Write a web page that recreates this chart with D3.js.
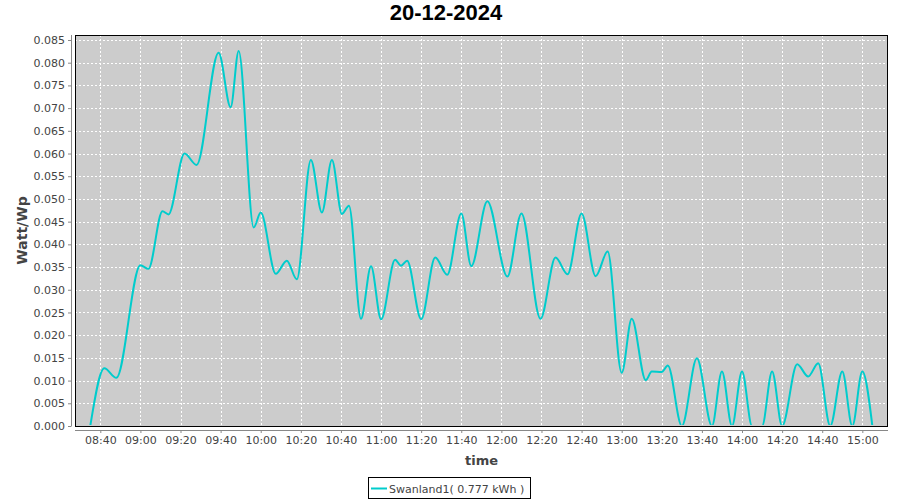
<!DOCTYPE html>
<html>
<head>
<meta charset="utf-8">
<script src="https://cdn.jsdelivr.net/npm/d3@7"></script>
<style>
  html, body { margin: 0; padding: 0; background: #ffffff; }
  svg { display: block; }
</style>
</head>
<body>
<svg id="chart" width="900" height="500"></svg>
<script>
// ---- data ----
const title = "20-12-2024";
const seriesName = "Swanland1( 0.777 kWh )";
const yLabel = "Watt/Wp";
const xLabel = "time";

const times = [
  "08:35","08:42","08:48","09:00","09:04","09:11","09:14","09:22","09:28","09:39",
  "09:45","09:49","09:56:30","10:00","10:07:30","10:13","10:18","10:25","10:30:30","10:35:30",
  "10:40:30","10:44","10:50","10:55","11:00","11:07","11:10","11:13","11:20","11:27",
  "11:33","11:40","11:45","11:53","12:03","12:10","12:19:30","12:27","12:33","12:40",
  "12:47","12:53","13:00","13:05","13:12","13:15","13:20","13:23","13:30","13:37:30",
  "13:45","13:50","13:55","14:00","14:05","14:10","14:15","14:20","14:27:30","14:33",
  "14:38","14:44","14:50","14:55","15:00","15:05"
];
const values = [
  0.0000,0.0127,0.0106,0.0354,0.0346,0.0473,0.0466,0.0600,0.0575,0.0822,
  0.0702,0.0826,0.0437,0.0470,0.0335,0.0364,0.0323,0.0586,0.0470,0.0586,
  0.0467,0.0485,0.0236,0.0352,0.0235,0.0366,0.0353,0.0364,0.0235,0.0371,
  0.0333,0.0468,0.0352,0.0495,0.0329,0.0468,0.0236,0.0371,0.0334,0.0468,
  0.0330,0.0384,0.0117,0.0236,0.0101,0.0120,0.0119,0.0133,0.0000,0.0149,
  0.0000,0.0120,0.0000,0.0120,0.0000,0.0000,0.0120,0.0000,0.0136,0.0109,
  0.0138,0.0000,0.0120,0.0000,0.0120,0.0000
];
const xTickLabels = ["08:40","09:00","09:20","09:40","10:00","10:20","10:40","11:00","11:20","11:40",
  "12:00","12:20","12:40","13:00","13:20","13:40","14:00","14:20","14:40","15:00"];
const yTickValues = [0,0.005,0.010,0.015,0.020,0.025,0.030,0.035,0.040,0.045,0.050,0.055,0.060,0.065,0.070,0.075,0.080,0.085];
const xDomain = ["08:27:23","15:12:48"];
const yDomain = [0, 0.0861];

// ---- layout ----
const W = 900, H = 500;
const plot = { left: 75, right: 888, top: 35, bottom: 426 };
const parse = s => d3.timeParse(s.length > 5 ? "%H:%M:%S" : "%H:%M")(s);
const data = times.map((t, i) => ({ t: parse(t), v: values[i] }));

const x = d3.scaleTime().domain(xDomain.map(parse)).range([plot.left, plot.right]);
const y = d3.scaleLinear().domain(yDomain).range([plot.bottom, plot.top]);

const svg = d3.select("#chart");
const tickFont = "DejaVu Sans, sans-serif";

// title
svg.append("text")
  .attr("x", 446).attr("y", 20)
  .attr("text-anchor", "middle")
  .attr("font-family", "Liberation Sans, Arial, sans-serif")
  .attr("font-weight", "bold")
  .attr("font-size", 22)
  .attr("fill", "#000")
  .text(title);

// plot background
svg.append("rect")
  .attr("x", plot.left).attr("y", plot.top)
  .attr("width", plot.right - plot.left).attr("height", plot.bottom - plot.top)
  .attr("fill", "#cccccc");

// gridlines
const grid = svg.append("g").attr("stroke", "#ffffff").attr("stroke-width", 1).attr("stroke-dasharray", "2,2");
const xTicks = xTickLabels.map(parse);
grid.selectAll("line.v").data(xTicks).enter().append("line")
  .attr("x1", d => Math.round(x(d)) + 0.5).attr("x2", d => Math.round(x(d)) + 0.5)
  .attr("y1", plot.top).attr("y2", plot.bottom);
grid.selectAll("line.h").data(yTickValues).enter().append("line")
  .attr("x1", plot.left).attr("x2", plot.right)
  .attr("y1", d => Math.round(y(d)) + 0.5).attr("y2", d => Math.round(y(d)) + 0.5);

// clip for the line
svg.append("clipPath").attr("id", "clip").append("rect")
  .attr("x", plot.left).attr("y", plot.top)
  .attr("width", plot.right - plot.left).attr("height", plot.bottom - plot.top - 1);

const line = d3.line().x(d => x(d.t)).y(d => y(d.v)).curve(d3.curveMonotoneX);
svg.append("path").datum(data)
  .attr("clip-path", "url(#clip)")
  .attr("fill", "none")
  .attr("stroke", "#00cccc")
  .attr("stroke-width", 2)
  .attr("d", line);

// plot border
svg.append("rect")
  .attr("x", plot.left + 0.5).attr("y", plot.top + 0.5)
  .attr("width", plot.right - plot.left - 1).attr("height", plot.bottom - plot.top)
  .attr("fill", "none").attr("stroke", "#000").attr("stroke-width", 1);

// y axis
const yAxis = d3.axisLeft(y).tickValues(yTickValues).tickFormat(d3.format(".3f")).tickSize(3).tickPadding(3);
const gy = svg.append("g").attr("transform", `translate(${plot.left - 4},0)`).call(yAxis);
gy.select(".domain").attr("stroke", "#888").attr("d", `M0.5,${plot.top}V${plot.bottom + 0.5}`);
gy.selectAll(".tick line").attr("stroke", "#888");
gy.selectAll("text").attr("font-family", tickFont).attr("font-size", 11).attr("fill", "#444");

// x axis
const xAxis = d3.axisBottom(x).tickValues(xTicks).tickFormat(d3.timeFormat("%H:%M")).tickSize(3).tickPadding(3);
const gx = svg.append("g").attr("transform", `translate(0,${plot.bottom + 4})`).call(xAxis);
gx.select(".domain").attr("stroke", "#888").attr("d", `M${plot.left},0.5H${plot.right}`);
gx.selectAll(".tick line").attr("stroke", "#888");
gx.selectAll("text").attr("font-family", tickFont).attr("font-size", 11).attr("fill", "#444");

// axis labels
svg.append("text")
  .attr("transform", `translate(27,${(plot.top + plot.bottom) / 2}) rotate(-90)`)
  .attr("text-anchor", "middle")
  .attr("font-family", "DejaVu Sans, sans-serif")
  .attr("font-weight", "bold")
  .attr("font-size", 14)
  .attr("fill", "#444")
  .text(yLabel);

svg.append("text")
  .attr("x", (plot.left + plot.right) / 2).attr("y", 465)
  .attr("text-anchor", "middle")
  .attr("font-family", "DejaVu Sans, sans-serif")
  .attr("font-weight", "bold")
  .attr("font-size", 13)
  .attr("fill", "#444")
  .text(xLabel);

// legend
const lg = svg.append("g");
lg.append("rect").attr("x", 368.5).attr("y", 477.5).attr("width", 162).attr("height", 21)
  .attr("fill", "#fff").attr("stroke", "#000").attr("stroke-width", 1);
lg.append("line").attr("x1", 371).attr("x2", 387).attr("y1", 488.5).attr("y2", 488.5)
  .attr("stroke", "#00cccc").attr("stroke-width", 2);
lg.append("text").attr("x", 389).attr("y", 492.5)
  .attr("font-family", tickFont).attr("font-size", 11).attr("fill", "#444")
  .text(seriesName);
</script>
</body>
</html>
